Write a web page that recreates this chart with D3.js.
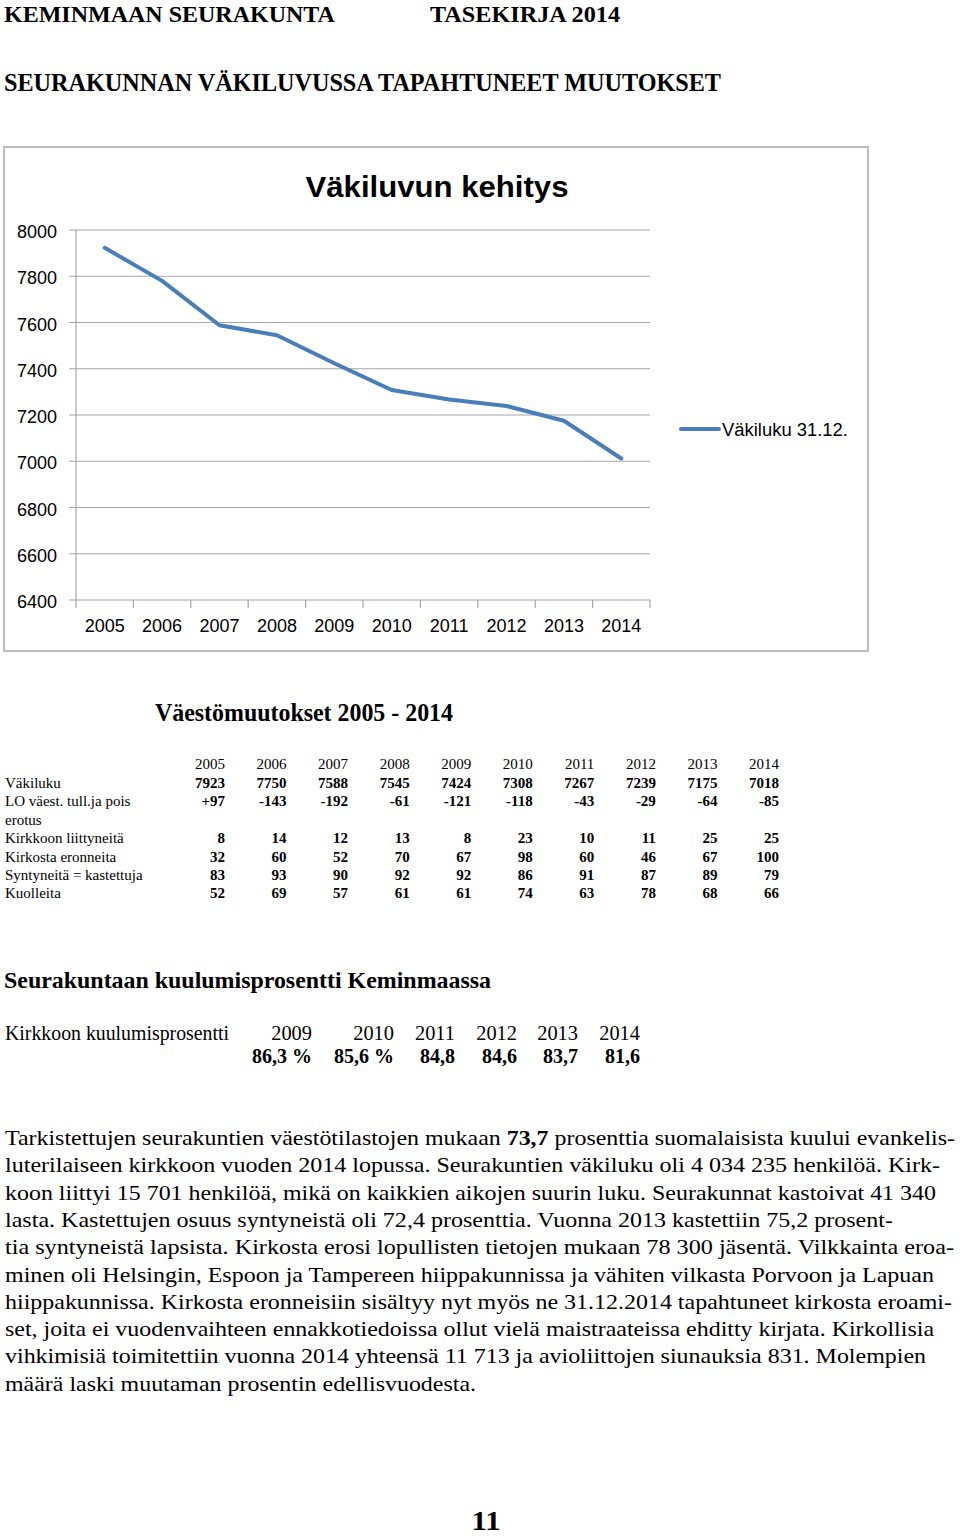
<!DOCTYPE html>
<html><head><meta charset="utf-8">
<script src="https://cdn.jsdelivr.net/npm/d3@7/dist/d3.min.js"></script>
<style>html,body{margin:0;padding:0;background:#fff;}svg{display:block;}</style>
</head><body>
<script>
// ---------- data ----------
const chartYears = ["2005","2006","2007","2008","2009","2010","2011","2012","2013","2014"];
const chartValues = [7923, 7780, 7588, 7545, 7424, 7308, 7267, 7239, 7175, 7012];
const yTicks = [6400, 6600, 6800, 7000, 7200, 7400, 7600, 7800, 8000];
const seriesName = "Väkiluku 31.12.";

const tableYears = ["2005","2006","2007","2008","2009","2010","2011","2012","2013","2014"];
const vakiluku = ["7923","7750","7588","7545","7424","7308","7267","7239","7175","7018"];
const loErotus = ["+97","-143","-192","-61","-121","-118","-43","-29","-64","-85"];
const liittyneita = ["8","14","12","13","8","23","10","11","25","25"];
const eronneita = ["32","60","52","70","67","98","60","46","67","100"];
const syntyneita = ["83","93","90","92","92","86","91","87","89","79"];
const kuolleita = ["52","69","57","61","61","74","63","78","68","66"];

const pctYears = ["2009","2010","2011","2012","2013","2014"];
const pctValues = ["86,3 %","85,6 %","84,8","84,6","83,7","81,6"];

const paraLines = [
  [["Tarkistettujen seurakuntien väestötilastojen mukaan ",0],["73,7",1],[" prosenttia suomalaisista kuului evankelis-",0]],
  [["luterilaiseen kirkkoon vuoden 2014 lopussa. Seurakuntien väkiluku oli 4 034 235 henkilöä. Kirk-",0]],
  [["koon liittyi 15 701 henkilöä, mikä on kaikkien aikojen suurin luku. Seurakunnat kastoivat 41 340",0]],
  [["lasta. Kastettujen osuus syntyneistä oli 72,4 prosenttia. Vuonna 2013 kastettiin 75,2 prosent-",0]],
  [["tia syntyneistä lapsista. Kirkosta erosi lopullisten tietojen mukaan 78 300 jäsentä. Vilkkainta eroa-",0]],
  [["minen oli Helsingin, Espoon ja Tampereen hiippakunnissa ja vähiten vilkasta Porvoon ja Lapuan",0]],
  [["hiippakunnissa. Kirkosta eronneisiin sisältyy nyt myös ne 31.12.2014 tapahtuneet kirkosta eroami-",0]],
  [["set, joita ei vuodenvaihteen ennakkotiedoissa ollut vielä maistraateissa ehditty kirjata. Kirkollisia",0]],
  [["vihkimisiä toimitettiin vuonna 2014 yhteensä 11 713 ja avioliittojen siunauksia 831. Molempien",0]],
  [["määrä laski muutaman prosentin edellisvuodesta.",0]]
];
const paraLineEnds = [955, 940, 936, 893, 954, 934, 952, 934, 926, 476];

// ---------- helpers ----------
const W = 960, H = 1536;
const svg = d3.select("body").append("svg").attr("width", W).attr("height", H);
svg.append("rect").attr("width", W).attr("height", H).attr("fill", "#fff");
const SERIF = "'Liberation Serif','Times New Roman',serif";
const SANS = "'Liberation Sans',Arial,sans-serif";

function fitTo(sel, w) { sel.attr("textLength", w).attr("lengthAdjust", "spacingAndGlyphs"); return sel; }
function txt(x, y, s, size, opts = {}) {
  const t = svg.append("text").attr("x", x).attr("y", y)
    .attr("font-family", opts.family || SERIF).attr("font-size", size)
    .attr("font-weight", opts.bold ? "bold" : "normal").attr("fill", "#000").text(s);
  const nat = t.node().getComputedTextLength();
  const w = opts.width != null ? opts.width : nat * (opts.stretch || 1);
  if (Math.abs(w - nat) > 0.3) fitTo(t, w);
  if (opts.anchor === "end") t.attr("x", x - w);
  else if (opts.anchor === "middle") t.attr("x", x - w / 2);
  return t;
}

// ---------- header ----------
txt(4, 22, "KEMINMAAN SEURAKUNTA", 24, {bold: true, width: 331});
txt(430, 22, "TASEKIRJA 2014", 24, {bold: true, width: 190});
txt(4, 91, "SEURAKUNNAN VÄKILUVUSSA TAPAHTUNEET MUUTOKSET", 26, {bold: true, width: 717});

// ---------- chart ----------
svg.append("rect").attr("x", 4).attr("y", 147).attr("width", 864).attr("height", 504)
  .attr("fill", "#fff").attr("stroke", "#a6a6a6").attr("stroke-width", 1.5);

txt(437, 197, "Väkiluvun kehitys", 29, {family: SANS, bold: true, anchor: "middle", width: 263});

const x = d3.scaleBand().domain(chartYears).range([76, 650]);
const y = d3.scaleLinear().domain([6400, 8000]).range([600, 230]);

const g = svg.append("g");
g.selectAll("line.grid").data(yTicks.filter(v => v > 6400)).join("line")
  .attr("x1", 69).attr("x2", 650).attr("y1", d => y(d)).attr("y2", d => y(d))
  .attr("stroke", "#a6a6a6").attr("stroke-width", 1.2);
g.append("line").attr("x1", 76).attr("x2", 76).attr("y1", y(8000)).attr("y2", y(6400))
  .attr("stroke", "#a6a6a6").attr("stroke-width", 1.2);
const xAxis = d3.axisBottom(x).tickSize(0).tickFormat(d => d);
const xa = g.append("g").attr("transform", `translate(0,${y(6400)})`).call(xAxis);
xa.select(".domain").remove();
xa.selectAll("text").attr("font-family", SANS).attr("font-size", 18).attr("fill", "#000").attr("dy", null).attr("y", 32);
g.append("line").attr("x1", 69).attr("x2", 650).attr("y1", y(6400)).attr("y2", y(6400))
  .attr("stroke", "#a6a6a6").attr("stroke-width", 1.2);
const bounds = chartYears.map(d => x(d)).concat([x.range()[1]]);
g.selectAll("line.xt").data(bounds).join("line")
  .attr("x1", d => d).attr("x2", d => d).attr("y1", y(6400)).attr("y2", y(6400) + 8)
  .attr("stroke", "#a6a6a6").attr("stroke-width", 1.2);
const yAxis = d3.axisLeft(y).tickValues(yTicks).tickSize(0).tickPadding(19).tickFormat(d3.format("d"));
const ya = g.append("g").attr("transform", "translate(76,0)").call(yAxis);
ya.select(".domain").remove();
ya.selectAll("text").attr("font-family", SANS).attr("font-size", 18).attr("fill", "#000").attr("dy", "0.42em");

const lineGen = d3.line().x((d, i) => x(chartYears[i]) + x.bandwidth() / 2).y(d => y(d));
g.append("path").datum(chartValues).attr("d", lineGen).attr("fill", "none")
  .attr("stroke", "#4a7ebb").attr("stroke-width", 4).attr("stroke-linejoin", "round").attr("stroke-linecap", "round");

g.append("line").attr("x1", 681).attr("x2", 719).attr("y1", 429).attr("y2", 429)
  .attr("stroke", "#4a7ebb").attr("stroke-width", 4).attr("stroke-linecap", "round");
txt(722, 436, seriesName, 18, {family: SANS, width: 126});

// ---------- table ----------
txt(155, 721, "Väestömuutokset 2005 - 2014", 25, {bold: true, width: 298});
const colRight = d3.scaleLinear().domain([0, 9]).range([225, 779]);
const TS = 15, TF = 1.0;
tableYears.forEach((d, i) => txt(colRight(i), 769, d, TS, {anchor: "end", stretch: TF}));
const rows = [
  {label: "Väkiluku", vals: vakiluku, y: 788},
  {label: "LO väest. tull.ja pois", vals: loErotus, y: 806},
  {label: "erotus", vals: null, y: 825},
  {label: "Kirkkoon liittyneitä", vals: liittyneita, y: 843},
  {label: "Kirkosta eronneita", vals: eronneita, y: 862},
  {label: "Syntyneitä = kastettuja", vals: syntyneita, y: 880},
  {label: "Kuolleita", vals: kuolleita, y: 898}
];
rows.forEach(r => {
  txt(5, r.y, r.label, TS, {stretch: TF});
  if (r.vals) r.vals.forEach((v, i) => txt(colRight(i), r.y, v, TS, {bold: true, anchor: "end", stretch: TF}));
});

// ---------- percent section ----------
txt(4, 988, "Seurakuntaan kuulumisprosentti Keminmaassa", 24, {bold: true, width: 487});
txt(5, 1040, "Kirkkoon kuulumisprosentti", 20, {width: 224});
const pctRight = [312, 394, 455, 517, 578, 640];
pctYears.forEach((d, i) => txt(pctRight[i], 1040, d, 20, {anchor: "end", stretch: 1.02}));
pctValues.forEach((d, i) => txt(pctRight[i], 1063, d, 20, {bold: true, anchor: "end", stretch: 1.0}));

// ---------- paragraph ----------
paraLines.forEach((parts, i) => {
  const t = svg.append("text").attr("x", 5).attr("y", 1145 + i * 27.3)
    .attr("font-family", SERIF).attr("font-size", 21).attr("fill", "#000");
  parts.forEach(p => t.append("tspan").attr("font-weight", p[1] ? "bold" : "normal").text(p[0]));
  fitTo(t, paraLineEnds[i] - 5);
});

// ---------- page number ----------
txt(486, 1530, "11", 27, {bold: true, anchor: "middle", width: 29});
</script>
</body></html>
